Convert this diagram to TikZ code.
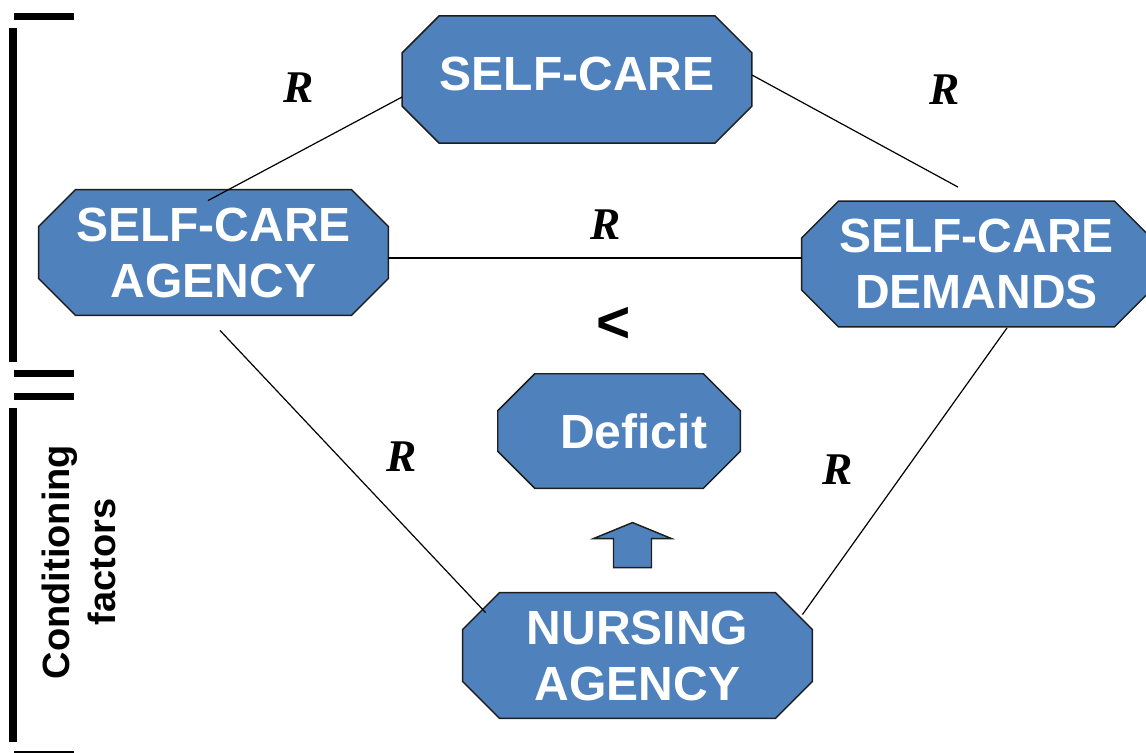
\documentclass[tikz,border=0pt]{standalone}
\usepackage{fontspec}
\setmainfont{Liberation Sans}
\newfontfamily\relfont{Liberation Serif}
\usetikzlibrary{positioning,calc,backgrounds}

\definecolor{boxblue}{HTML}{4F81BD}
\definecolor{boxedge}{HTML}{1E1E1E}

\begin{document}
\begin{tikzpicture}[
  x=0.75pt, y=-0.75pt,
  concept/.style={align=center, text=white, inner sep=0pt,
    font=\fontsize{36}{42}\selectfont\bfseries,
    minimum width=262pt, minimum height=94pt},
  octo/.style={draw=boxedge, line width=1.1pt, fill=boxblue, line join=miter},
  link/.style={draw=black, line width=0.9pt},
  rel/.style={font=\relfont\fontsize{34}{34}\selectfont\bfseries\itshape, inner sep=0pt},
  bracket/.style={line width=6pt, black},
  tick/.style={line width=5.25pt, black},
]
\useasboundingbox (0,0) rectangle (1146,753);
\def\cut{37}

% the five concepts
\node[concept, minimum height=95pt, text depth=8pt] (care) at (577,79.5) {SELF-CARE};
\node[concept] (agency) at (213.5,252.5) {SELF-CARE\\AGENCY};
\node[concept] (demands) at (976.5,264) {SELF-CARE\\DEMANDS};
\node[concept, minimum width=181.5pt, minimum height=85.5pt] (deficit) at (619,431) {\hspace*{22pt}Deficit};
\node[concept] (nursing) at (637.5,655.5) {NURSING\\AGENCY};

% octagon outlines behind the text
\begin{scope}[on background layer]
\foreach \n in {care,agency,demands,deficit,nursing}
  \path[octo] ($(\n.north west)+(\cut,0)$) -- ($(\n.north east)+(-\cut,0)$)
    -- ($(\n.north east)+(0,\cut)$) -- ($(\n.south east)+(0,-\cut)$)
    -- ($(\n.south east)+(-\cut,0)$) -- ($(\n.south west)+(\cut,0)$)
    -- ($(\n.south west)+(0,-\cut)$) -- ($(\n.north west)+(0,\cut)$) -- cycle;
\end{scope}

% relations
\draw[link] ($(care.west)+(0,17.5)$) -- ($(agency.north)+(-5.5,11)$);
\draw[link] ($(care.east)+(0,-4.5)$) -- ($(demands.north)+(-18.5,-14)$);
\draw[link] ($(agency.east)+(0,5.5)$) -- ($(demands.west)+(0,-6)$);
\draw[link] ($(agency.south)+(6.5,15)$) -- ($(nursing.north west)+(23,20)$);
\draw[link] ($(demands.south)+(30.5,1)$) -- ($(nursing.north east)+(-10,22)$);

\node[rel] (r1) at (299,88) {R};
\node[rel] (r2) at (945,90) {R};
\node[rel] (r3) at (606,225) {R};
\node[rel] (r4) at (402,457) {R};
\node[rel] (r5) at (838,470) {R};

\node[font=\fontsize{44}{44}\selectfont\bfseries, inner sep=0pt] (less) at (614,325) {<};

% block arrow from nursing agency up to the deficit
\coordinate (tail) at ($(nursing.north)+(-5.5,-25)$);
\path[octo] (tail) ++(-18.5,0) -- ++(0,-29) -- ++(-20,0) -- ++(39,-16)
  -- ++(39,16) -- ++(-20,0) -- ++(0,29) -- cycle;

% bracket on the left
\draw[tick] (14,16) -- (74,16);
\draw[bracket] (13,28) -- (13,362);
\draw[tick] (14,373) -- (74,373);
\draw[tick] (14,396) -- (74,396);
\draw[bracket] (13,408) -- (13,742);
\draw[tick] (14,754) -- (74,754);

\node[rotate=90, align=center, inner sep=0pt,
  font=\fontsize{28.5}{34}\selectfont\bfseries] (cond) at (79,562) {Conditioning\\factors};
\end{tikzpicture}
\end{document}
